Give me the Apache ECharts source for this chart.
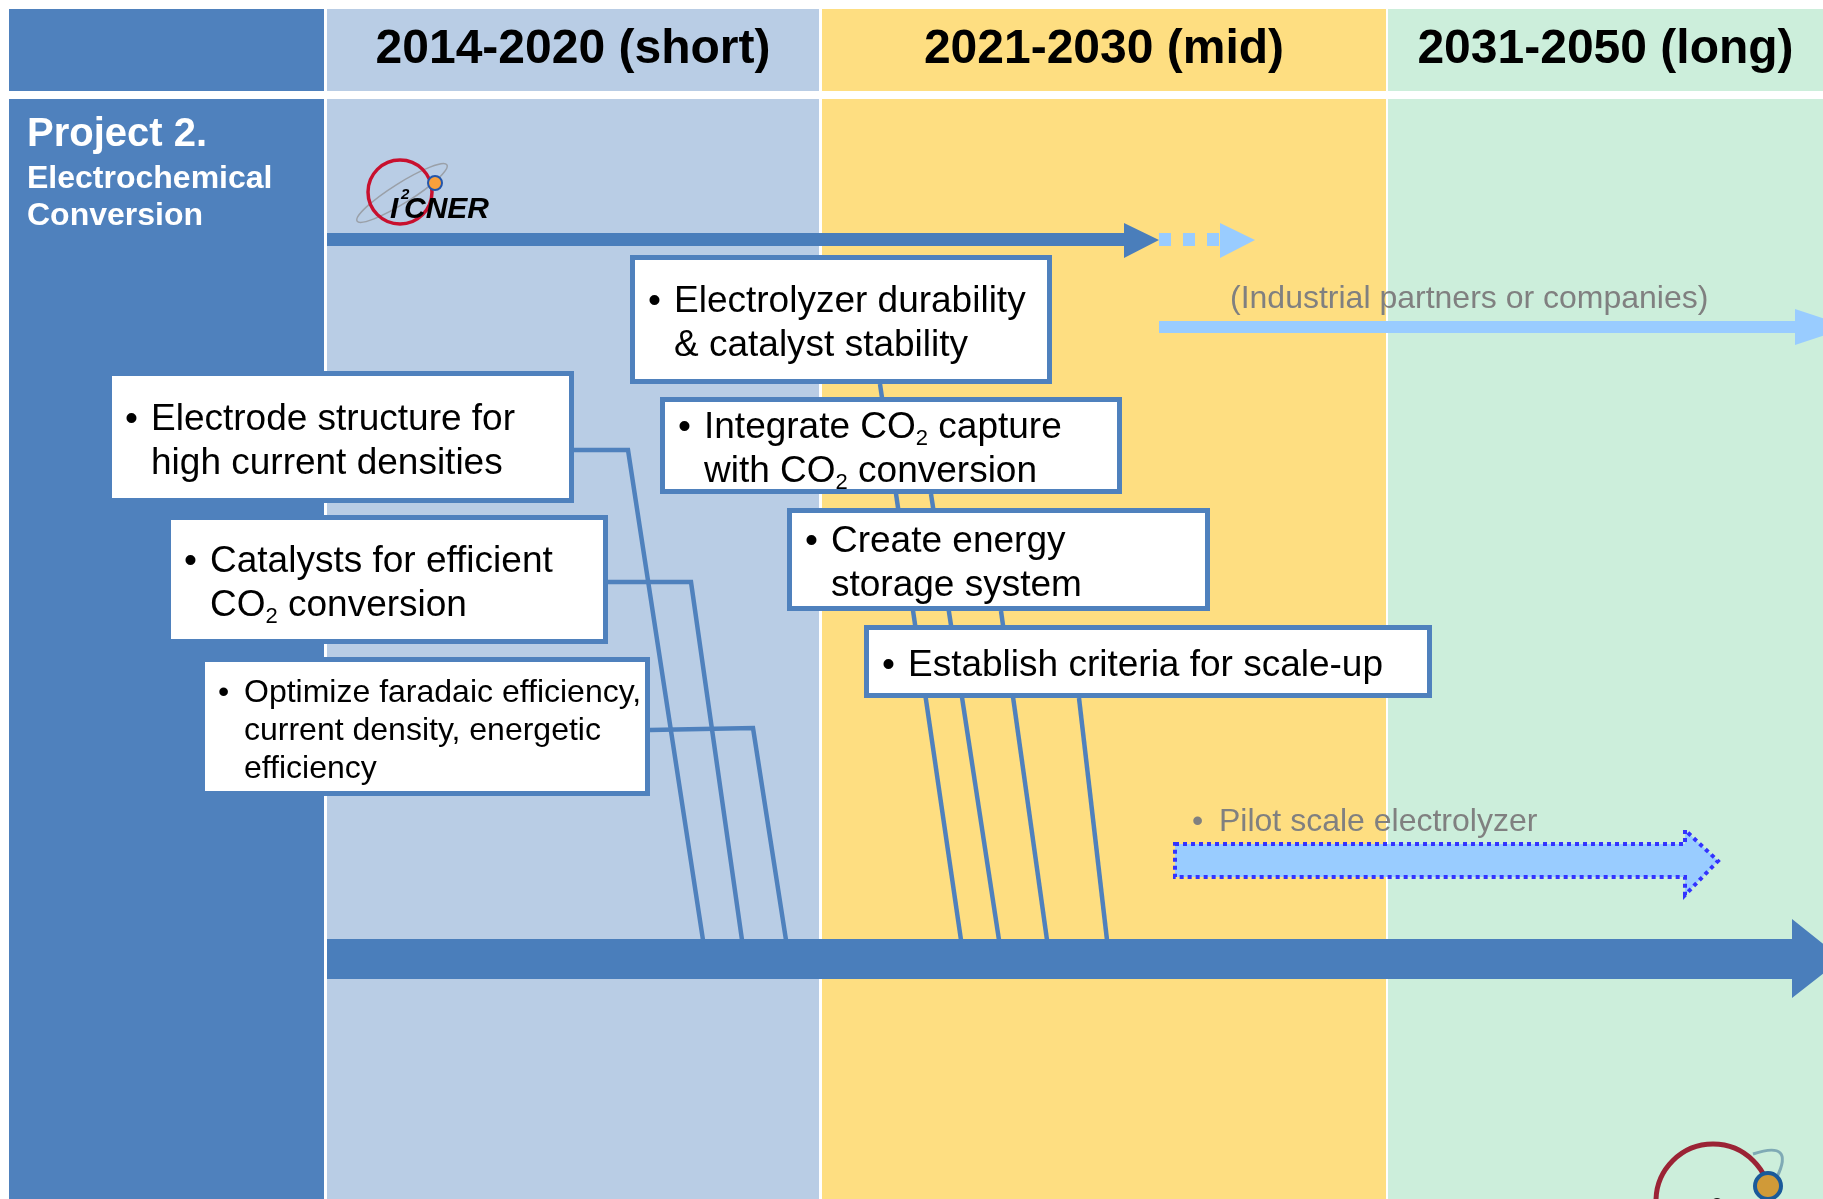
<!DOCTYPE html>
<html>
<head>
<meta charset="utf-8">
<title>Project 2 roadmap</title>
<script src="https://cdn.jsdelivr.net/npm/echarts@6/dist/echarts.min.js"></script>
<style>
  html, body { margin: 0; padding: 0; background: #fff; }
  #roadmap { width: 1823px; height: 1199px; }
</style>
</head>
<body>
<div id="roadmap"></div>
<script>
// ---------- data ----------
const periods = ['2014-2020 (short)', '2021-2030 (mid)', '2031-2050 (long)'];
const projectTitle = 'Project 2.';
const projectName = ['Electrochemical', 'Conversion'];
// research items feeding the roadmap in the short term
const shortTermItems = [
  ['Electrode structure for', 'high current densities'],
  ['Catalysts for efficient', 'CO2 conversion'],
  ['Optimize faradaic efficiency,', 'current density, energetic', 'efficiency']
];
// items for the mid term
const midTermItems = [
  ['Electrolyzer durability', '& catalyst stability'],
  ['Integrate CO2 capture', 'with CO2 conversion'],
  ['Create energy', 'storage system'],
  ['Establish criteria for scale-up']
];
const partnerLabel = '(Industrial partners or companies)';
const pilotLabel = 'Pilot scale electrolyzer';

// ---------- layout (slide units, drawn through the hidden axes) ----------
const SLIDE_W = 1823;
const SLIDE_H = 1199;
const headerY = [9, 91];
const bodyY = [99, 1199];
const labelX = [9, 324];
const bandX = [[327, 819], [822, 1386], [1388, 1823]];
const bandColors = ['#B9CDE5', '#FEDE81', '#CCEEDB'];
const shortBoxes = [[107, 371, 574, 503], [166, 515, 608, 644], [200, 657, 650, 796]];
const shortFont = [37, 37, 32];
const midBoxes = [[630, 255, 1052, 384], [660, 397, 1122, 494], [787, 508, 1210, 611], [864, 625, 1432, 698]];
const shortLinks = [
  [[574, 450], [628, 450], [703, 940]],
  [[608, 582], [691, 582], [742, 940]],
  [[650, 730], [753, 728], [786, 940]]
];
const midLinks = [
  [[880, 384], [961, 940]],
  [[931, 494], [999, 940]],
  [[1001, 611], [1047, 940]],
  [[1079, 698], [1107, 940]]
];

const FONT = '"Liberation Sans", Arial, sans-serif';
const DARK = '#4A7EBB';
const LIGHT = '#99CCFF';

function rect (api, x0, y0, x1, y1, style) {
  const a = api.coord([x0, y0]);
  const b = api.coord([x1, y1]);
  return { type: 'rect', shape: { x: a[0], y: a[1], width: b[0] - a[0], height: b[1] - a[1] }, style: style };
}
function poly (api, pts, style, kind) {
  return { type: kind || 'polygon', shape: { points: pts.map(p => api.coord(p)) }, style: style };
}
function label (api, x, y, str, style) {
  const p = api.coord([x, y]);
  return {
    type: 'text',
    x: p[0],
    y: p[1],
    style: Object.assign({ text: str, fontFamily: FONT, verticalAlign: 'middle', align: 'left', fill: '#000' }, style)
  };
}
function subscript (line) {
  return line.replace(/CO2/g, 'CO{s|2}');
}
function itemBox (api, box, lines, fs) {
  const [x0, y0, x1, y1] = box;
  const lh = Math.round(fs * 1.2);
  const cy = (y0 + y1) / 2 + 4.5;
  const top = cy - (lh * lines.length) / 2;
  return {
    type: 'group',
    children: [
      rect(api, x0 + 2.5, y0 + 2.5, x1 - 2.5, y1 - 2.5, { fill: '#fff', stroke: '#4F81BD', lineWidth: 5 }),
      label(api, x0 + 18, top + lh / 2, '•', { fontSize: fs }),
      label(api, x0 + 44, cy, lines.map(subscript).join('\n'), {
        fontSize: fs,
        lineHeight: lh,
        rich: { s: { fontSize: Math.round(fs * 0.6), fontFamily: FONT, fill: '#000', verticalAlign: 'bottom', lineHeight: 10 } }
      })
    ]
  };
}

const chart = echarts.init(document.getElementById('roadmap'));

const option = {
  animation: false,
  grid: { left: 0, right: 0, top: 0, bottom: 0 },
  xAxis: { type: 'value', min: 0, max: SLIDE_W, show: false },
  yAxis: { type: 'value', min: 0, max: SLIDE_H, inverse: true, show: false },
  series: [
    {
      // period columns with their headers
      type: 'custom',
      silent: true,
      data: periods.map((p, i) => [i, 0]),
      renderItem (params, api) {
        const i = params.dataIndex;
        const [x0, x1] = bandX[i];
        return {
          type: 'group',
          children: [
            rect(api, x0, headerY[0], x1, headerY[1], { fill: bandColors[i] }),
            rect(api, x0, bodyY[0], x1, bodyY[1], { fill: bandColors[i] }),
            label(api, (x0 + x1) / 2, 49.5, periods[i], { fontSize: 48, fontWeight: 'bold', align: 'center' })
          ]
        };
      }
    },
    {
      // project label column
      type: 'custom',
      silent: true,
      data: [[0, 0]],
      renderItem (params, api) {
        return {
          type: 'group',
          children: [
            rect(api, labelX[0], headerY[0], labelX[1], headerY[1], { fill: '#4F81BD' }),
            rect(api, labelX[0], bodyY[0], labelX[1], bodyY[1], { fill: '#4F81BD' }),
            label(api, 27, 134.5, projectTitle, { fontSize: 40, fontWeight: 'bold', fill: '#fff' }),
            label(api, 27, 179.5, projectName[0], { fontSize: 32, fontWeight: 'bold', fill: '#fff' }),
            label(api, 27, 216.5, projectName[1], { fontSize: 32, fontWeight: 'bold', fill: '#fff' })
          ]
        };
      }
    },
    {
      // I2CNER logos
      type: 'custom',
      silent: true,
      data: [[0, 0]],
      renderItem (params, api) {
        const c = api.coord([402, 193]);
        const r = api.coord([1713, 1201]);
        const d = api.coord([1768, 1186]);
        const t0 = api.coord([1753, 1154]);
        const t1 = api.coord([1777, 1177]);
        const tc = api.coord([1795, 1140]);
        return {
          type: 'group',
          children: [
            { type: 'ellipse', x: c[0], y: c[1], rotation: 0.56, shape: { cx: 0, cy: 0, rx: 53, ry: 10 }, style: { fill: 'none', stroke: '#9AA0A8', lineWidth: 1.5 } },
            { type: 'ellipse', shape: { cx: api.coord([400, 0])[0], cy: api.coord([0, 192])[1], rx: 32, ry: 32 }, style: { fill: 'none', stroke: '#C8102E', lineWidth: 3.5 } },
            { type: 'circle', shape: { cx: api.coord([435, 0])[0], cy: api.coord([0, 183])[1], r: 7 }, style: { fill: '#F9A03C', stroke: '#2255AA', lineWidth: 2 } },
            label(api, 390, 210, 'I', { fontSize: 30, fontWeight: 'bold', fontStyle: 'italic' }),
            label(api, 401, 195, '2', { fontSize: 15, fontWeight: 'bold', fontStyle: 'italic' }),
            label(api, 404, 210, 'CNER', { fontSize: 30, fontWeight: 'bold', fontStyle: 'italic' }),
            { type: 'circle', shape: { cx: r[0], cy: r[1], r: 57 }, style: { fill: 'none', stroke: '#9B2335', lineWidth: 5 } },
            { type: 'bezierCurve', shape: { x1: t0[0], y1: t0[1], x2: t1[0], y2: t1[1], cpx1: tc[0], cpy1: tc[1] }, style: { fill: 'none', stroke: '#7FAAB5', lineWidth: 3 } },
            { type: 'circle', shape: { cx: d[0], cy: d[1], r: 13 }, style: { fill: '#D09A38', stroke: '#1A5A9A', lineWidth: 4 } },
            { type: 'circle', shape: { cx: api.coord([1717, 0])[0], cy: api.coord([0, 1204])[1], r: 6 }, style: { fill: '#1a1a1a' } }
          ]
        };
      }
    },
    {
      // I2CNER arrow and the partners arrow
      type: 'custom',
      silent: true,
      data: [[0, 0]],
      renderItem (params, api) {
        return {
          type: 'group',
          children: [
            poly(api, [[327, 233], [1124, 233], [1124, 223], [1159, 240], [1124, 258], [1124, 246], [327, 246]], { fill: DARK }),
            rect(api, 1159, 233, 1171, 246, { fill: LIGHT }),
            rect(api, 1183, 233, 1195, 246, { fill: LIGHT }),
            rect(api, 1207, 233, 1219, 246, { fill: LIGHT }),
            poly(api, [[1220, 223], [1255, 240], [1220, 258]], { fill: LIGHT }),
            poly(api, [[1159, 321], [1795, 321], [1795, 309], [1850, 327], [1795, 345], [1795, 333], [1159, 333]], { fill: LIGHT }),
            label(api, 1230, 299, partnerLabel, { fontSize: 32, fill: '#808080' })
          ]
        };
      }
    },
    {
      // connectors from the items to the main timeline
      type: 'custom',
      silent: true,
      data: shortLinks.concat(midLinks).map((l, i) => [i, 0]),
      renderItem (params, api) {
        const path = shortLinks.concat(midLinks)[params.dataIndex];
        return poly(api, path, { fill: 'none', stroke: '#4F81BD', lineWidth: 4.5 }, 'polyline');
      }
    },
    {
      type: 'custom',
      name: 'short term',
      silent: true,
      data: shortTermItems.map((t, i) => [i, 0]),
      renderItem (params, api) {
        const i = params.dataIndex;
        return itemBox(api, shortBoxes[i], shortTermItems[i], shortFont[i]);
      }
    },
    {
      type: 'custom',
      name: 'mid term',
      silent: true,
      data: midTermItems.map((t, i) => [i, 0]),
      renderItem (params, api) {
        const i = params.dataIndex;
        return itemBox(api, midBoxes[i], midTermItems[i], 37);
      }
    },
    {
      // main timeline arrow and pilot scale arrow
      type: 'custom',
      silent: true,
      data: [[0, 0]],
      renderItem (params, api) {
        return {
          type: 'group',
          children: [
            poly(api, [[327, 939], [1792, 939], [1792, 919], [1842, 959], [1792, 998], [1792, 979], [327, 979]], { fill: DARK }),
            poly(api, [[1175, 844], [1685, 844], [1685, 830], [1718, 861], [1685, 895], [1685, 877], [1175, 877]], { fill: LIGHT, stroke: '#3333FF', lineWidth: 4, lineDash: [4, 4] }),
            label(api, 1192, 822, '•', { fontSize: 32, fill: '#808080' }),
            label(api, 1219, 822, pilotLabel, { fontSize: 32, fill: '#808080' })
          ]
        };
      }
    }
  ]
};

chart.setOption(option);
</script>
</body>
</html>
